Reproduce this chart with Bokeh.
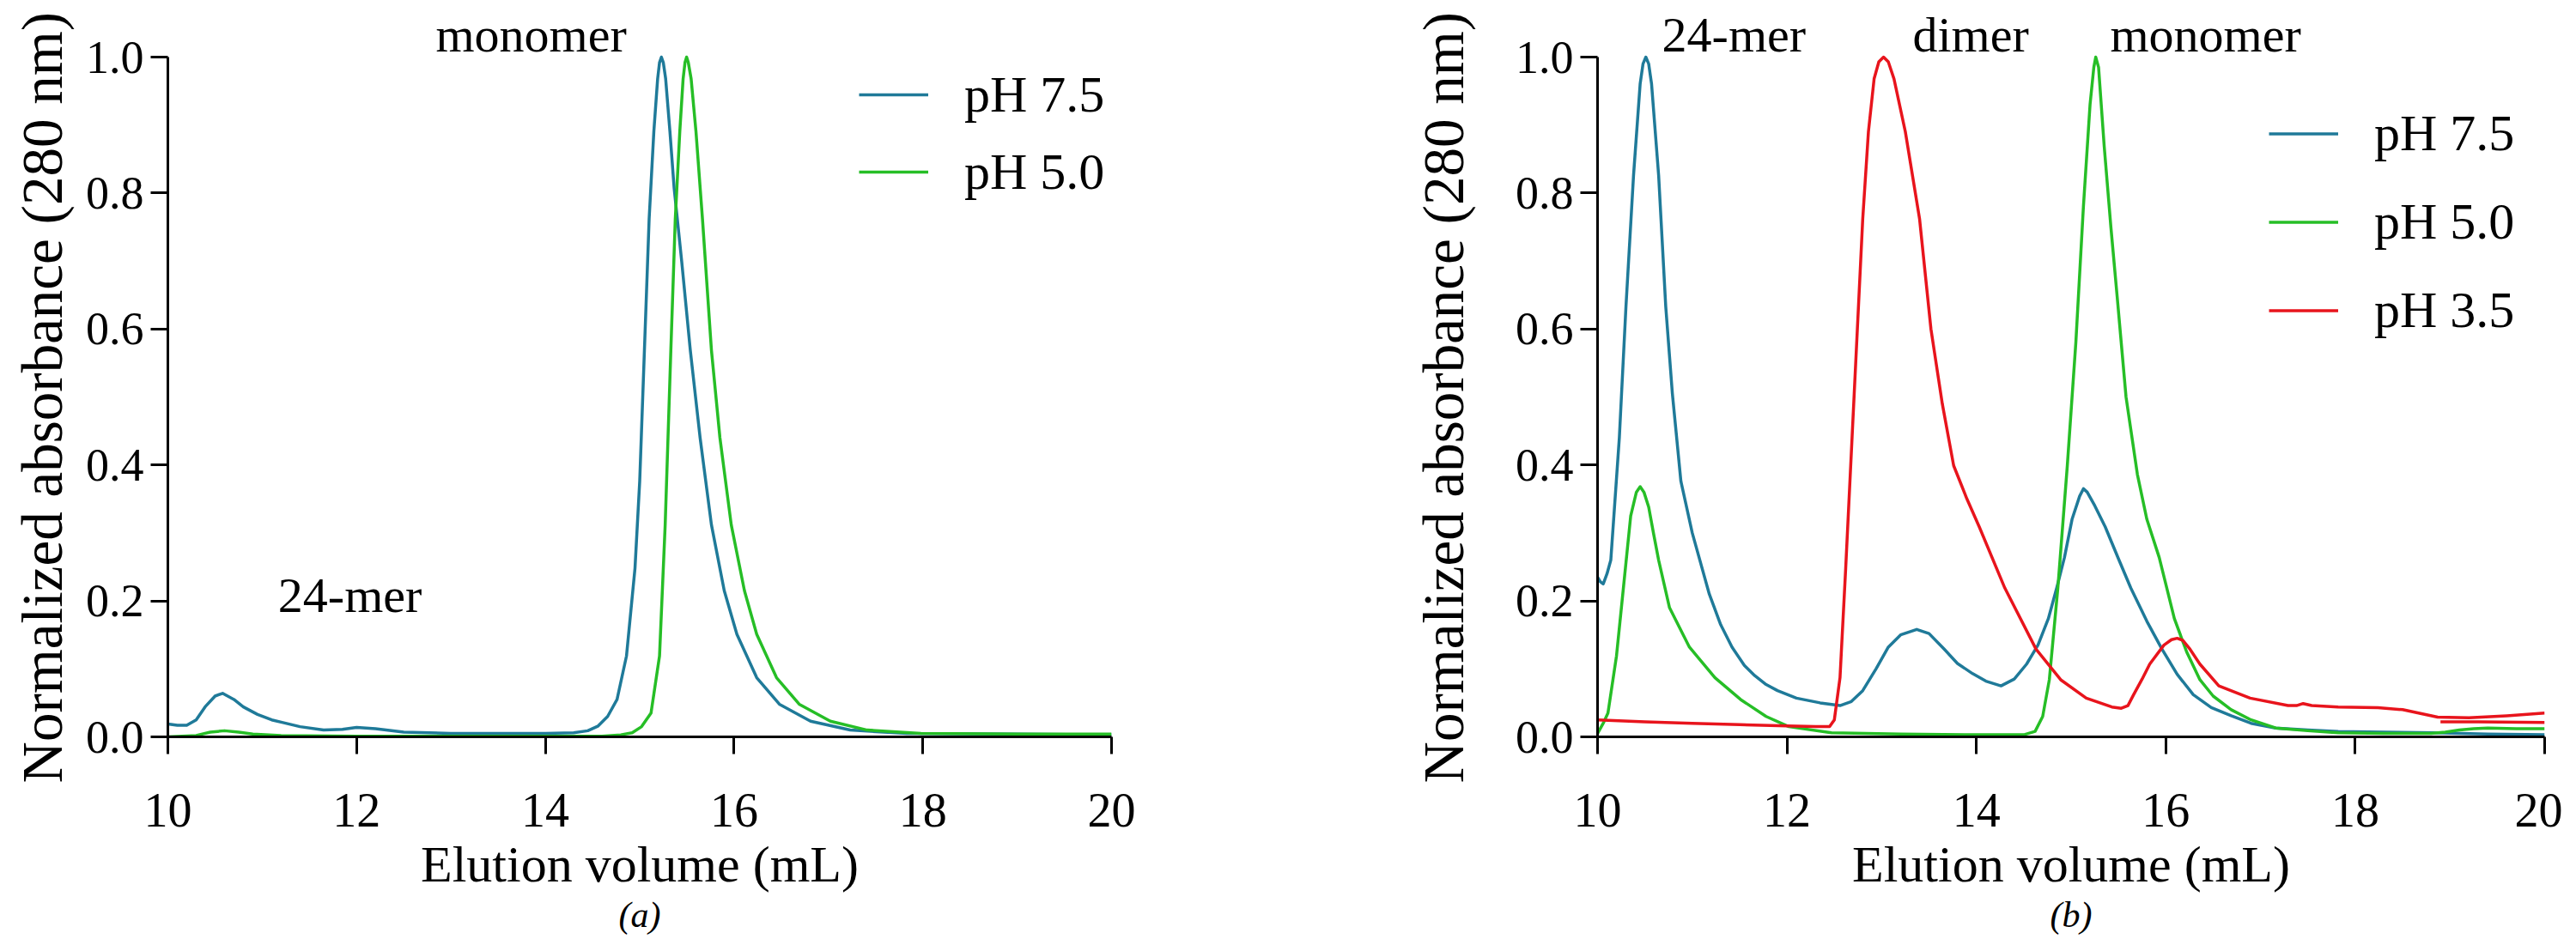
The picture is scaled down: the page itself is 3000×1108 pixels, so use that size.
from bokeh.plotting import figure
from bokeh.layouts import row
from bokeh.models import (Label, Legend, LegendItem, FixedTicker, NumeralTickFormatter, Range1d,
                          LinearAxis, Title)
from bokeh.embed import file_html
from bokeh.resources import INLINE

# ---------------- data ----------------
# Panel (a)
a_x_ph75 = [10.0, 10.1, 10.2, 10.3, 10.4, 10.5, 10.58, 10.7, 10.8, 10.95, 11.1, 11.22, 11.4, 11.65,
            11.85, 12.0, 12.2, 12.5, 13.0, 13.5, 14.0, 14.3, 14.45, 14.56, 14.66, 14.76, 14.86,
            14.95, 15.0, 15.05, 15.10, 15.15, 15.19, 15.21, 15.23, 15.25, 15.275, 15.32, 15.365,
            15.446, 15.536, 15.64, 15.76, 15.896, 16.03, 16.24, 16.48, 16.81, 17.23, 17.83, 19.0, 20.0]
a_y_ph75 = [0.019, 0.017, 0.017, 0.025, 0.045, 0.060, 0.064, 0.055, 0.044, 0.033, 0.025, 0.021, 0.015,
            0.010, 0.011, 0.014, 0.012, 0.007, 0.005, 0.005, 0.005, 0.006, 0.009, 0.016, 0.030, 0.055,
            0.119, 0.248, 0.376, 0.569, 0.762, 0.891, 0.968, 0.992, 1.0, 0.992, 0.968, 0.891, 0.807,
            0.698, 0.569, 0.44, 0.312, 0.215, 0.151, 0.087, 0.048, 0.023, 0.010, 0.005, 0.004, 0.003]

a_x_ph50 = [10.0, 10.3, 10.45, 10.6, 10.75, 10.9, 11.2, 12.0, 13.0, 14.0, 14.6, 14.8, 14.92, 15.02,
            15.12, 15.21, 15.27, 15.33, 15.377, 15.425, 15.46, 15.48, 15.497, 15.515, 15.545, 15.596,
            15.665, 15.76, 15.85, 15.97, 16.11, 16.24, 16.45, 16.69, 17.02, 17.41, 17.98, 19.0, 20.0]
a_y_ph50 = [0.000, 0.002, 0.007, 0.009, 0.007, 0.004, 0.002, 0.001, 0.001, 0.001, 0.001, 0.003, 0.006,
            0.015, 0.035, 0.119, 0.312, 0.569, 0.762, 0.891, 0.968, 0.992, 1.0, 0.992, 0.968, 0.891,
            0.762, 0.569, 0.44, 0.312, 0.215, 0.151, 0.087, 0.048, 0.023, 0.010, 0.005, 0.004, 0.004]

# Panel (b)
b_x_ph75 = [10.0, 10.03, 10.06, 10.1, 10.14, 10.23, 10.30, 10.38, 10.45, 10.48, 10.51, 10.54, 10.57,
            10.645, 10.72, 10.79, 10.88, 11.0, 11.18, 11.3, 11.42, 11.55, 11.66, 11.78, 11.9, 12.1,
            12.35, 12.56, 12.68, 12.80, 12.94, 13.07, 13.2, 13.37, 13.5, 13.66, 13.8, 13.96, 14.1,
            14.26, 14.4, 14.53, 14.65, 14.76, 14.85, 14.93, 15.01, 15.09, 15.13, 15.17, 15.25, 15.36,
            15.5, 15.63, 15.8, 15.96, 16.12, 16.29, 16.48, 16.69, 16.9, 17.16, 17.5, 17.82, 18.3,
            18.82, 19.4, 20.0]
b_y_ph75 = [0.235, 0.228, 0.225, 0.24, 0.26, 0.44, 0.633, 0.826, 0.961, 0.99, 1.0, 0.99, 0.961, 0.826,
            0.633, 0.505, 0.376, 0.30, 0.21, 0.165, 0.132, 0.105, 0.09, 0.077, 0.068, 0.057, 0.05,
            0.046, 0.052, 0.068, 0.10, 0.132, 0.150, 0.158, 0.152, 0.129, 0.108, 0.093, 0.082, 0.075,
            0.085, 0.107, 0.135, 0.174, 0.22, 0.264, 0.32, 0.354, 0.365, 0.36, 0.34, 0.309, 0.262,
            0.219, 0.17, 0.129, 0.092, 0.062, 0.043, 0.031, 0.02, 0.013, 0.010, 0.008, 0.007, 0.006,
            0.004, 0.003]

b_x_ph50 = [10.0, 10.02, 10.06, 10.11, 10.2, 10.27, 10.35, 10.41, 10.45, 10.49, 10.54, 10.59, 10.645,
            10.76, 10.97, 11.24, 11.51, 11.78, 12.02, 12.47, 13.2, 14.0, 14.5, 14.62, 14.7, 14.77,
            14.86, 14.96, 15.05, 15.13, 15.2, 15.24, 15.26, 15.29, 15.35, 15.42, 15.49, 15.58, 15.7,
            15.8, 15.93, 16.09, 16.22, 16.36, 16.5, 16.69, 16.9, 17.16, 17.5, 17.82, 18.3, 18.8,
            18.95, 19.1, 19.25, 19.4, 19.7, 20.0]
b_y_ph50 = [0.005, 0.010, 0.020, 0.035, 0.119, 0.215, 0.325, 0.36, 0.368, 0.36, 0.338, 0.30, 0.26,
            0.19, 0.132, 0.087, 0.055, 0.030, 0.015, 0.006, 0.004, 0.003, 0.003, 0.008, 0.030, 0.084,
            0.219, 0.399, 0.58, 0.78, 0.93, 0.985, 1.0, 0.985, 0.868, 0.75, 0.642, 0.50, 0.386, 0.32,
            0.264, 0.174, 0.125, 0.084, 0.060, 0.040, 0.025, 0.013, 0.009, 0.006, 0.005, 0.005, 0.007,
            0.010, 0.012, 0.013, 0.012, 0.012]

b_x_ph35 = [10.0, 10.5, 11.0, 11.5, 12.0, 12.3, 12.45, 12.5, 12.56, 12.62, 12.71, 12.8, 12.86, 12.92,
            12.97, 13.02, 13.07, 13.13, 13.25, 13.40, 13.52, 13.64, 13.76, 13.9, 14.03, 14.3, 14.63,
            14.89, 15.16, 15.43, 15.53, 15.6, 15.66, 15.75, 15.83, 15.98, 16.06, 16.12, 16.18, 16.25,
            16.36, 16.56, 16.89, 17.29, 17.38, 17.45, 17.54, 17.82, 18.24, 18.5, 18.7, 18.87, 19.2,
            19.6, 20.0]
b_y_ph35 = [0.025, 0.022, 0.020, 0.018, 0.016, 0.015, 0.015, 0.025, 0.087, 0.248, 0.505, 0.762, 0.89,
            0.968, 0.993, 1.0, 0.993, 0.968, 0.89, 0.762, 0.60, 0.49, 0.399, 0.35, 0.309, 0.219, 0.129,
            0.084, 0.057, 0.044, 0.042, 0.046, 0.062, 0.085, 0.107, 0.135, 0.143, 0.145, 0.142, 0.13,
            0.107, 0.075, 0.057, 0.046, 0.046, 0.049, 0.046, 0.044, 0.043, 0.040, 0.034, 0.029, 0.028,
            0.031, 0.035]
b_x_ph35_tail = [18.9, 19.3, 20.0]
b_y_ph35_tail = [0.022, 0.022, 0.021]

legend_labels = ["pH 7.5", "pH 5.0", "pH 3.5"]
x_ticks = [10, 12, 14, 16, 18, 20]
y_ticks = [0.0, 0.2, 0.4, 0.6, 0.8, 1.0]
a_notes = [("monomer", 13.85, 1.033), ("24-mer", 11.93, 0.208)]
b_notes = [("24-mer", 11.44, 1.033), ("dimer", 13.94, 1.033), ("monomer", 16.42, 1.033)]
captions = ["(a)", "(b)"]
x_title = "Elution volume (mL)"
y_title = "Normalized absorbance (280 nm)"

COL = {"pH 7.5": "#1F7A99", "pH 5.0": "#26BE26", "pH 3.5": "#E8141C"}
FONT = "Liberation Serif"
Y_TOP = 858 / 792.0   # room above 1.0 for the peak annotations


def make_panel(width, border_left, border_right, caption, ytitle_standoff):
    p = figure(width=width, height=1092, output_backend="svg", toolbar_location=None,
               x_range=Range1d(10, 20), y_range=Range1d(0, Y_TOP),
               min_border_left=border_left, min_border_right=border_right,
               min_border_top=0, min_border_bottom=234)
    p.outline_line_color = None
    p.grid.visible = False
    p.background_fill_color = "white"
    p.border_fill_color = "white"
    for ax in (p.xaxis[0], p.yaxis[0]):
        ax.axis_line_width = 3
        ax.axis_line_color = "black"
        ax.major_tick_line_width = 3
        ax.major_tick_line_color = "black"
        ax.major_tick_in = 0
        ax.major_tick_out = 20
        ax.minor_tick_line_color = None
        ax.major_label_text_font = FONT
        ax.major_label_text_color = "black"
    p.xaxis.major_label_text_font_size = "56px"
    p.yaxis.major_label_text_font_size = "54px"
    p.yaxis.bounds = (0, 1)
    p.xaxis.ticker = FixedTicker(ticks=x_ticks)
    p.yaxis.ticker = FixedTicker(ticks=y_ticks)
    p.xaxis.formatter = NumeralTickFormatter(format="0")
    p.yaxis.formatter = NumeralTickFormatter(format="0.0")
    p.xaxis.axis_label = x_title
    p.xaxis.axis_label_text_font = FONT
    p.xaxis.axis_label_text_font_style = "normal"
    p.xaxis.axis_label_text_color = "black"
    p.xaxis.axis_label_text_font_size = "60px"
    p.xaxis.major_label_standoff = 46
    p.xaxis.axis_label_standoff = 8
    p.yaxis.major_label_standoff = 8

    # y-axis title: starts a little below the 0.0 line, as in the reference
    p.add_layout(Title(text=y_title, align="left", offset=-54, vertical_align="middle",
                       standoff=ytitle_standoff, text_font=FONT, text_font_size="67px",
                       text_font_style="normal", text_color="black"), "left")

    # panel caption under the x-axis title
    cap = LinearAxis(ticker=FixedTicker(ticks=[15]), major_label_overrides={15: caption},
                     axis_line_color=None, major_tick_line_color=None,
                     minor_tick_line_color=None, major_tick_in=0, major_tick_out=0,
                     major_label_standoff=0, major_label_text_font=FONT,
                     major_label_text_font_size="42px", major_label_text_font_style="italic",
                     major_label_text_color="black")
    p.add_layout(cap, "below")
    return p


def add_notes(p, notes):
    for txt, x, y in notes:
        p.add_layout(Label(x=x, y=y, text=txt, text_font=FONT, text_font_size="58px",
                           text_align="center", text_baseline="alphabetic", text_color="black"))


def add_legend(p, renderers, labels, x, y, row_h):
    items = [LegendItem(label=lab, renderers=[r]) for lab, r in zip(labels, renderers)]
    leg = Legend(items=items, location=(x, y), orientation="vertical",
                 label_text_font=FONT, label_text_font_size="60px",
                 label_text_color="black", glyph_width=81, glyph_height=row_h,
                 label_height=row_h, label_standoff=42, spacing=0, padding=0, margin=0,
                 border_line_color=None, background_fill_alpha=0.0)
    p.add_layout(leg)


# ---------------- panel (a) ----------------
pa = make_panel(1500, 193, 206, captions[0], 20)
ra1 = pa.line(a_x_ph75, a_y_ph75, line_color=COL["pH 7.5"], line_width=3.5, line_join="round")
ra2 = pa.line(a_x_ph50, a_y_ph50, line_color=COL["pH 5.0"], line_width=3.5, line_join="round")
add_legend(pa, [ra1, ra2], legend_labels[:2], 805, 613, 90)
add_notes(pa, a_notes)

# ---------------- panel (b) ----------------
pb = make_panel(1484, 360, 21, captions[1], 85)
rb1 = pb.line(b_x_ph75, b_y_ph75, line_color=COL["pH 7.5"], line_width=3.5, line_join="round")
rb2 = pb.line(b_x_ph50, b_y_ph50, line_color=COL["pH 5.0"], line_width=3.5, line_join="round")
rb3 = pb.line(b_x_ph35, b_y_ph35, line_color=COL["pH 3.5"], line_width=3.5, line_join="round")
pb.line(b_x_ph35_tail, b_y_ph35_tail, line_color=COL["pH 3.5"], line_width=3.5, line_join="round")
add_legend(pb, [rb1, rb2, rb3], legend_labels, 782, 445, 103)
add_notes(pb, b_notes)

layout = row(pa, pb)
open("out.html", "w").write(file_html(layout, INLINE))
